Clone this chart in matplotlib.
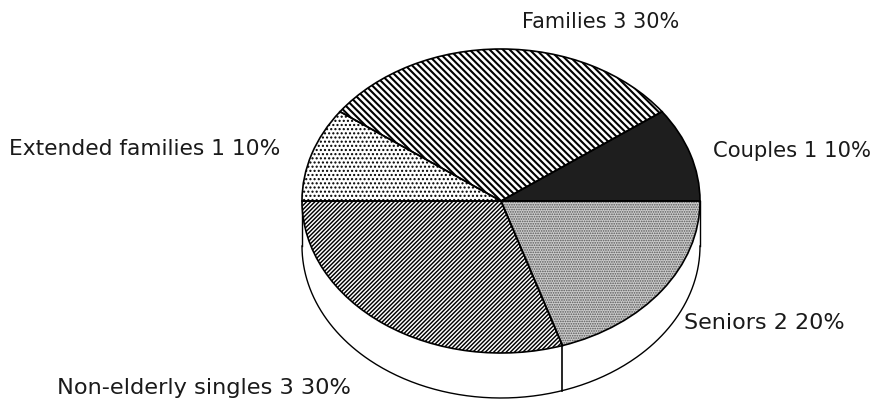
import numpy as np
import matplotlib
matplotlib.use("Agg")
import matplotlib.pyplot as plt
from matplotlib.patches import Wedge

labels = ["Couples 1 10%", "Families 3 30%", "Extended families 1 10%",
          "Non-elderly singles 3 30%", "Seniors 2 20%"]
values = [1, 3, 1, 3, 2]
face_colors = ["#1e1e1e", "white", "white", "white", "#cccccc"]
hatches = ["", "\\\\\\\\\\", "....", "////////", "......."]
hatch_widths = [0.5, 1.5, 1.0, 1.05, 0.8]
edge_colors = ["#111111", "black", "black", "black", "#555555"]
# label anchor in pixels (left edge, text centre) and font size
label_pos = [(713, 151), (522, 22), (9, 149), (57, 388), (684, 323)]
label_sizes = [15.2, 15, 15.7, 16.2, 16]

W, H = 880, 404
CX, CY, RX, RY, DEPTH = 501, 201, 199, 152, 45

plt.rcParams["font.family"] = ["DejaVu Sans"]

fig = plt.figure(figsize=(W / 100, H / 100), dpi=100)
ax = fig.add_axes([0, 0, 1, 1])

# side wall of the drum, drawn under the pie
t = np.linspace(np.pi, 2 * np.pi, 300)
d = DEPTH / RY
ax.fill_between(np.cos(t), np.sin(t), np.sin(t) - d, color="white", zorder=0)
ax.plot(np.cos(t), np.sin(t) - d, color="black", lw=1.0, zorder=1)
ax.plot([-1, -1], [0, -d], color="black", lw=1.0, zorder=1)
ax.plot([1, 1], [0, -d], color="black", lw=1.0, zorder=1)

# seam between the two front slices
seam = np.deg2rad(360 * sum(values[:4]) / sum(values))
ax.plot([np.cos(seam)] * 2, [np.sin(seam), np.sin(seam) - d], color="black", lw=1.2, zorder=1)

wedges, _ = ax.pie(values, startangle=0, counterclock=True, radius=1, center=(0, 0),
                   wedgeprops={"linewidth": 0})
for w, fc, ec, h, hw in zip(wedges, face_colors, edge_colors, hatches, hatch_widths):
    w.set_facecolor(fc)
    w.set_edgecolor(ec)
    w.set_hatch(h)
    w.set_zorder(2)
    w.set_linewidth(0)
    w.set_hatch_linewidth(hw)

# black outlines on top of the hatching
for w in wedges:
    ax.add_patch(Wedge((0, 0), 1, w.theta1, w.theta2, fill=False,
                       edgecolor="black", lw=1.2, zorder=3))

ax.set_aspect("auto")
ax.set_xlim(-CX / RX, (W - CX) / RX)
ax.set_ylim((CY - H) / RY, CY / RY)
ax.axis("off")

for txt, (px, py), fs in zip(labels, label_pos, label_sizes):
    ax.text((px - CX) / RX, (CY - py) / RY, txt, ha="left", va="center", fontsize=fs,
            color="#1a1a1a", zorder=4)

fig.savefig("out.png", dpi=100)
